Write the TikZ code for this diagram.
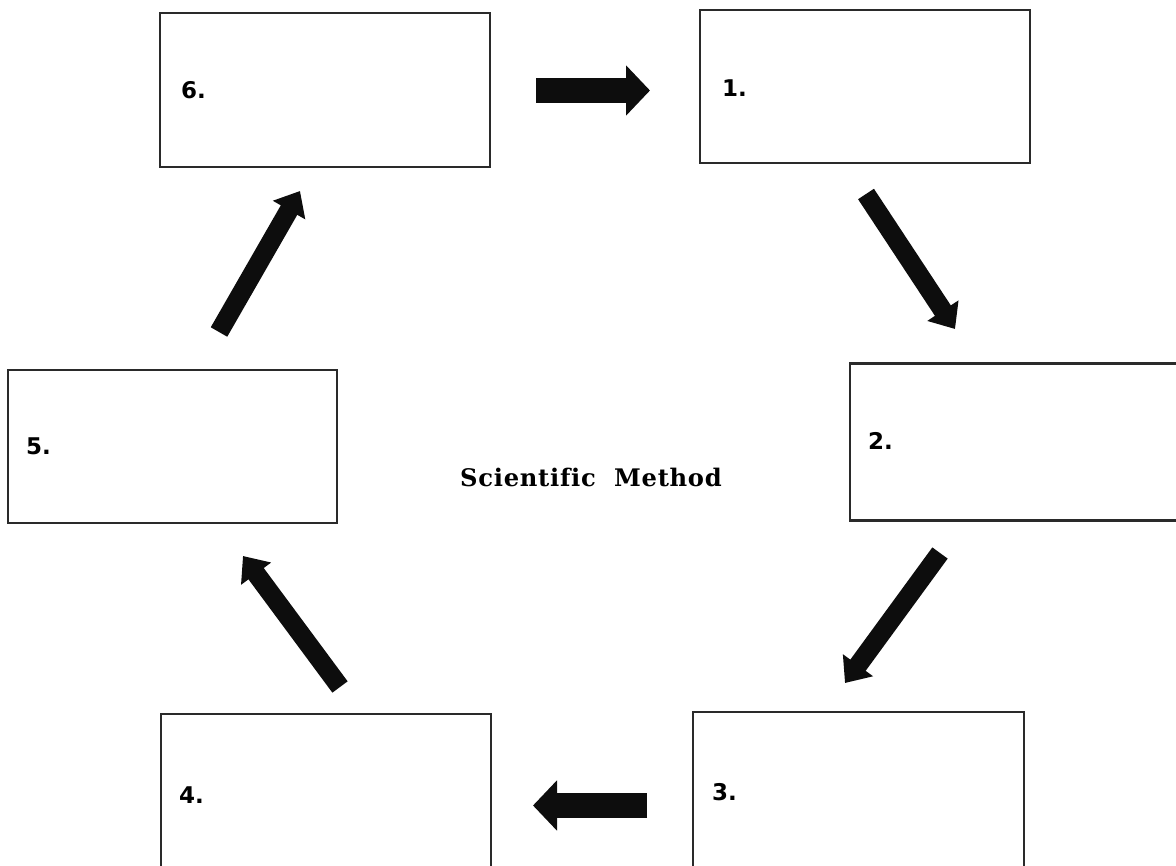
\documentclass[tikz,border=0pt]{standalone}
\usepackage{fontspec}
\newfontfamily\numfont{DejaVu Sans}
\newfontfamily\titlefont[Ligatures=NoCommon, LetterSpace=3]{DejaVu Serif}
\usetikzlibrary{arrows.meta}
\definecolor{ink}{HTML}{0D0D0D}
\definecolor{boxline}{HTML}{2A2A2A}
\tikzset{
  stepbox/.style={draw=boxline, line width=2.5pt, fill=white, minimum width=330pt, inner sep=0pt, outer sep=0pt},
  numlabel/.style={anchor=base west, inner sep=0pt, font=\numfont\bfseries\fontsize{23}{26}\selectfont},
  bigarrow/.style={draw=ink, line width=25pt, -{Triangle[width=49pt,length=24pt]}},
  diagarrow/.style={draw=ink, line width=19pt, -{Triangle[width=36pt,length=22pt]}}
}
\begin{document}
\begin{tikzpicture}[x=1pt,y=-1pt]
\useasboundingbox (0,0) rectangle (1176,866);
\clip (0,0) rectangle (1176,866);
% boxes
\node[stepbox, minimum height=154pt] (b6) at (325,90) {};
\node[stepbox, minimum height=153pt] (b1) at (865,86.5) {};
\node[stepbox, minimum height=157pt] (b2) at (1015,442) {};
\node[stepbox, minimum height=153pt, minimum width=329pt] (b5) at (172.5,446.5) {};
\node[stepbox, minimum height=160pt, minimum width=331pt] (b3) at (858.5,792) {};
\node[stepbox, minimum height=160pt] (b4) at (326,794) {};
% labels
\node[numlabel] (l6) at (181,99) {6.};
\node[numlabel] (l1) at (722,97) {1.};
\node[numlabel] (l2) at (868,450) {2.};
\node[numlabel] (l5) at (26,455) {5.};
\node[numlabel] (l3) at (712,800) {3.};
\node[numlabel] (l4) at (179,803) {4.};
\node[anchor=base west, inner sep=0pt, font=\titlefont\bfseries\fontsize{24.2}{27}\selectfont] (title) at (460,486) {Scientific\ \ Method};
% arrow end points
\coordinate (a61s) at (536,90.5);
\coordinate (a61e) at (650,90.5);
\coordinate (a12s) at (866,194);
\coordinate (a12e) at (955,329);
\coordinate (a23s) at (940,553);
\coordinate (a23e) at (845,683);
\coordinate (a34s) at (647,805.5);
\coordinate (a34e) at (533,805.5);
\coordinate (a45s) at (340,687);
\coordinate (a45e) at (243,556);
\coordinate (a56s) at (219,332);
\coordinate (a56e) at (300,191);
% arrows
\draw[bigarrow] (a61s) -- (a61e);
\draw[diagarrow] (a12s) -- (a12e);
\draw[diagarrow] (a23s) -- (a23e);
\draw[bigarrow] (a34s) -- (a34e);
\draw[diagarrow] (a45s) -- (a45e);
\draw[diagarrow] (a56s) -- (a56e);
\end{tikzpicture}
\end{document}
